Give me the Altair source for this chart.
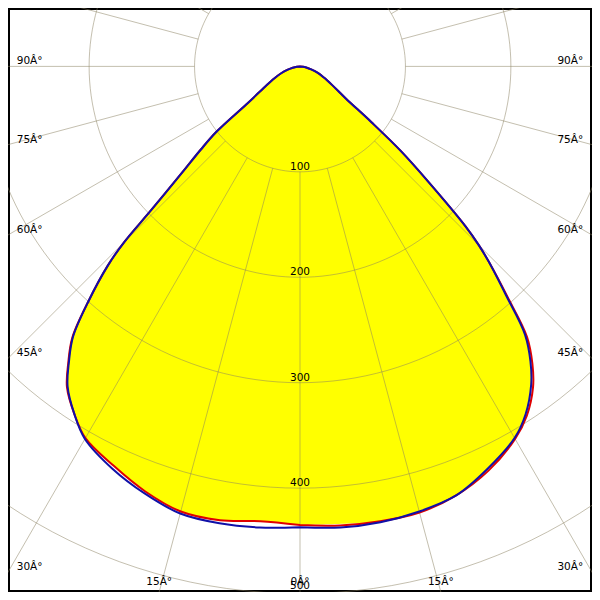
import math
import altair as alt
import pandas as pd

# ---- data (intensity in cd, gamma angle from nadir) ----
gamma = [0, 5, 10, 15, 20, 25, 30, 33, 36, 38, 40, 42, 44, 45, 46, 48, 50, 52, 55, 60, 65, 70, 75, 80, 85, 90]
c180_left = [437, 439, 440, 439, 431, 421, 408, 393, 375, 356, 335, 300, 262, 236, 196, 150, 123, 100, 60, 38, 27, 19, 12, 7, 3, 0]
c0_right = [437, 439, 439, 437, 433, 421, 407, 393, 373, 355, 332, 292, 258, 240, 218, 165, 125, 86, 53, 35, 25, 18, 11, 6, 3, 0]
c270_left = [435, 433, 437, 437, 429, 418, 407, 393, 376, 357, 336, 300, 262, 236, 196, 150, 123, 100, 60, 38, 27, 19, 12, 7, 3, 0]
c90_right = [435, 437, 438, 438, 433, 423, 408, 395, 376, 358, 335, 294, 258, 240, 218, 165, 125, 86, 53, 35, 25, 18, 11, 6, 3, 0]

ring_values = [100, 200, 300, 400, 500]
ray_angles = list(range(0, 360, 15))
angle_labels = [90, 75, 60, 45, 30, 15, 0]

# ---- geometry of the reference frame (reference pixels) ----
K = 1.0833          # px per cd
CX, CY = 300, 60    # centre in reference pixels
XMIN, XMAX = -CX / K, (600 - CX) / K
YMIN, YMAX = -(600 - CY) / K, CY / K

xs = alt.Scale(domain=[XMIN, XMAX], nice=False, zero=False)
ys = alt.Scale(domain=[YMIN, YMAX], nice=False, zero=False)


def pol(i, g, side):
    a = math.radians(g)
    return side * i * math.sin(a), -i * math.cos(a)


# curves
def curve(left, right, name):
    rows = []
    o = 0
    for g, i in zip(gamma, left):
        x, y = pol(i, g, -1)
        rows.append({"x": x, "y": y, "o": o, "c": name}); o += 1
    for g, i in reversed(list(zip(gamma, right))):
        x, y = pol(i, g, 1)
        rows.append({"x": x, "y": y, "o": o, "c": name}); o += 1
    return pd.DataFrame(rows)

blue_df = curve(c180_left, c0_right, "C0-C180")
red_df = curve(c270_left, c90_right, "C90-C270")

# fill (intersection of both planes on each side)
def fill_side(a, b, side):
    rows = []
    for g, i1, i2 in zip(gamma, a, b):
        x, y = pol(min(i1, i2), g, side)
        rows.append({"x": x, "y": y, "x2": -side * 0.6})
    return pd.DataFrame(rows)

fill_left = fill_side(c180_left, c270_left, -1)
fill_right = fill_side(c0_right, c90_right, 1)

# grid
circ_rows = []
for R in ring_values:
    for a in range(0, 361, 2):
        x, y = pol(R, a, 1)
        circ_rows.append({"x": x, "y": y, "o": a, "r": R})
circ_df = pd.DataFrame(circ_rows)

ray_rows = []
for a in ray_angles:
    x1, y1 = pol(100, a, 1)
    x2, y2 = pol(900, a, 1)
    ray_rows.append({"x": x1, "y": y1, "x2": x2, "y2": y2})
ray_df = pd.DataFrame(ray_rows)

# labels
rlab = []
for R in ring_values:
    yref = min(CY + R * K - 2, 597)
    rlab.append({"x": 0.0, "y": -(yref - CY) / K, "t": str(R)})
rlab_df = pd.DataFrame(rlab)

alab = []
for th in angle_labels:
    t = f"{th}Â°"
    if th == 0:
        alab.append({"x": 0.0, "y": -(593 - CY) / K, "t": t, "al": "center"})
        continue
    yref = CY + (300 / math.tan(math.radians(th)) if th != 90 else 0) - 2
    if yref <= 590:
        alab.append({"x": (9 - CX) / K, "y": -(yref - CY) / K, "t": t, "al": "left"})
        alab.append({"x": (591 - CX) / K, "y": -(yref - CY) / K, "t": t, "al": "right"})
    else:
        dx = 540 * math.tan(math.radians(th))
        for s in (-1, 1):
            alab.append({"x": s * dx / K, "y": -(593 - CY) / K, "t": t, "al": "center"})
alab_df = pd.DataFrame(alab)

X = alt.X("x:Q", scale=xs, axis=None)
Y = alt.Y("y:Q", scale=ys, axis=None)

fillL = alt.Chart(fill_left).mark_area(color="#FFFF00", orient="horizontal", interpolate="catmull-rom", clip=True).encode(
    x=alt.X("x:Q", scale=xs, axis=None, stack=None), x2="x2:Q", y=Y)
fillR = alt.Chart(fill_right).mark_area(color="#FFFF00", orient="horizontal", interpolate="catmull-rom", clip=True).encode(
    x=alt.X("x:Q", scale=xs, axis=None, stack=None), x2="x2:Q", y=Y)

grid_c = alt.Chart(circ_df).mark_line(color="#8a8060", opacity=0.5, strokeWidth=1, clip=True).encode(
    x=X, y=Y, detail="r:N", order="o:Q")
grid_r = alt.Chart(ray_df).mark_rule(color="#8a8060", opacity=0.5, strokeWidth=1, clip=True).encode(
    x=X, y=Y, x2="x2:Q", y2="y2:Q")

red_line = alt.Chart(red_df).mark_line(color="#E00000", strokeWidth=2, interpolate="catmull-rom", clip=True).encode(
    x=X, y=Y, order="o:Q")
blue_line = alt.Chart(blue_df).mark_line(color="#1010A8", strokeWidth=2, interpolate="catmull-rom", clip=True).encode(
    x=X, y=Y, order="o:Q")

txt_kw = dict(font="DejaVu Sans", fontSize=10.5, color="black", baseline="alphabetic")
rtext = alt.Chart(rlab_df).mark_text(align="center", **txt_kw).encode(x=X, y=Y, text="t:N")
layers = [fillL, fillR, grid_c, grid_r, red_line, blue_line, rtext]
for al in ["left", "right", "center"]:
    sub = alab_df[alab_df["al"] == al]
    if len(sub):
        layers.append(alt.Chart(sub).mark_text(align=al, **txt_kw).encode(x=X, y=Y, text="t:N"))

chart = alt.layer(*layers).properties(
    width=584, height=584,
    autosize=alt.AutoSizeParams(type="fit", contains="padding"),
    padding=0, background="white",
).configure_view(stroke="black", strokeWidth=4)

chart.save("out.html", embed_options={"renderer": "svg", "actions": False})
